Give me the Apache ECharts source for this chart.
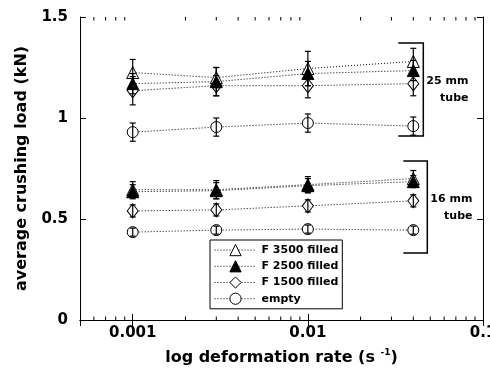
<!DOCTYPE html>
<html>
<head>
<meta charset="utf-8">
<script src="https://cdn.jsdelivr.net/npm/echarts@6/dist/echarts.min.js"></script>
<style>html,body{margin:0;padding:0;background:#fff}#c{width:490px;height:375px}</style>
</head>
<body>
<div id="c"></div>
<script>
// ---- data ----
const rates = [0.001, 0.003, 0.01, 0.04];
const seriesNames = ['F 3500 filled', 'F 2500 filled', 'F 1500 filled', 'empty'];
// 25 mm tube
const f3500_25 = [1.225, 1.20, 1.245, 1.28];
const f2500_25 = [1.17, 1.18, 1.22, 1.235];
const f1500_25 = [1.135, 1.16, 1.16, 1.17];
const empty_25 = [0.93, 0.955, 0.975, 0.96];
const f3500_25_err = [0.065, 0.05, 0.085, 0.065];
const f2500_25_err = [0.05, 0.07, 0.06, 0.05];
const f1500_25_err = [0.07, 0.05, 0.06, 0.06];
const empty_25_err = [0.045, 0.045, 0.045, 0.045];
// 16 mm tube
const f3500_16 = [0.645, 0.645, 0.67, 0.70];
const f2500_16 = [0.635, 0.64, 0.665, 0.685];
const f1500_16 = [0.54, 0.545, 0.565, 0.59];
const empty_16 = [0.435, 0.445, 0.45, 0.445];
const f3500_16_err = [0.04, 0.045, 0.04, 0.04];
const f2500_16_err = [0.035, 0.04, 0.035, 0.03];
const f1500_16_err = [0.03, 0.03, 0.03, 0.03];
const empty_16_err = [0.02, 0.02, 0.02, 0.02];
// brackets (load ranges of each tube group) and their labels
const bracketRanges = [[0.911, 1.371], [0.332, 0.787]];
const bracketLabels = [['25 mm', 'tube'], ['16 mm', 'tube']];
// axis ticks
const xTickLabels = ['0.001', '0.01', '0.1'];
const xMinorTicks = [0.0006, 0.0007, 0.0008, 0.0009, 0.002, 0.003, 0.004, 0.005, 0.006, 0.007, 0.008, 0.009,
  0.02, 0.03, 0.04, 0.05, 0.06, 0.07, 0.08, 0.09];
const yTickLabels = ['0', '0.5', '1', '1.5'];

// ---- chart ----
const FONT = 'DejaVu Sans';
const chart = echarts.init(document.getElementById('c'), null, {renderer: 'canvas'});

const groups = [
  {vals: [f3500_25, f2500_25, f1500_25, empty_25], errs: [f3500_25_err, f2500_25_err, f1500_25_err, empty_25_err]},
  {vals: [f3500_16, f2500_16, f1500_16, empty_16], errs: [f3500_16_err, f2500_16_err, f1500_16_err, empty_16_err]}
];
const symbolDefs = [
  {symbol: 'triangle', size: 12, fill: '#fff'},
  {symbol: 'triangle', size: 12, fill: '#000'},
  {symbol: 'diamond', size: [11, 14], fill: '#fff'},
  {symbol: 'circle', size: 11, fill: '#fff'}
];
const drawOrder = [3, 2, 0, 1];
const series = [];
groups.forEach(g => {
  drawOrder.forEach(k => {
    const sd = symbolDefs[k];
    series.push({
      type: 'line', name: seriesNames[k],
      data: rates.map((r, i) => [r, g.vals[k][i]]),
      symbol: sd.symbol, symbolSize: sd.size,
      showAllSymbol: true,
      lineStyle: {color: '#000', width: 1, type: [1, 2]},
      itemStyle: {color: sd.fill, borderColor: '#000', borderWidth: 1},
      emphasis: {disabled: true},
      z: 2
    });
  });
});
const errData = [];
groups.forEach(g => {
  for (let k = 0; k < 4; k++) {
    rates.forEach((r, i) => errData.push([r, g.vals[k][i] - g.errs[k][i], g.vals[k][i] + g.errs[k][i]]));
  }
});
series.push({
  type: 'custom', silent: true, z: 4,
  data: errData,
  encode: {x: 0, y: [1, 2]},
  renderItem(params, api) {
    const x = api.value(0), lo = api.value(1), hi = api.value(2);
    const a = api.coord([x, hi]), b = api.coord([x, lo]);
    const st = {stroke: '#000', lineWidth: 1.2};
    return {type: 'group', children: [
      {type: 'line', shape: {x1: a[0], y1: a[1], x2: b[0], y2: b[1]}, style: st},
      {type: 'line', shape: {x1: a[0] - 3, y1: a[1], x2: a[0] + 3, y2: a[1]}, style: st},
      {type: 'line', shape: {x1: b[0] - 3, y1: b[1], x2: b[0] + 3, y2: b[1]}, style: st}
    ]};
  }
});
// minor ticks on bottom and top
series.push({
  type: 'custom', silent: true, z: 5,
  data: xMinorTicks.map(v => [v, 0]),
  renderItem(params, api) {
    const x = api.value(0);
    const b = api.coord([x, 0]), t = api.coord([x, 1.5]);
    const st = {stroke: '#000', lineWidth: 1};
    return {type: 'group', children: [
      {type: 'line', shape: {x1: b[0], y1: b[1], x2: b[0], y2: b[1] - 3.5}, style: st},
      {type: 'line', shape: {x1: t[0], y1: t[1], x2: t[0], y2: t[1] + 3.5}, style: st}
    ]};
  }
});
// brackets next to last rate
const bracketOffsets = [[-15, 10], [-10, 14]];
series.push({
  type: 'custom', silent: true, z: 5,
  data: bracketRanges.map((r, i) => [rates[3], r[0], r[1], i]),
  encode: {x: 0, y: [1, 2]},
  renderItem(params, api) {
    const x = api.value(0), lo = api.value(1), hi = api.value(2), idx = api.value(3);
    const a = api.coord([x, hi]), b = api.coord([x, lo]);
    const off = bracketOffsets[idx];
    const xl = a[0] + off[0], xr = a[0] + off[1];
    const st = {stroke: '#000', lineWidth: 1.5, fill: null};
    const mid = (a[1] + b[1]) / 2;
    const tf = 'bold 11px "DejaVu Sans"';
    return {type: 'group', children: [
      {type: 'polyline', shape: {points: [[xl, a[1]], [xr, a[1]], [xr, b[1]], [xl, b[1]]]}, style: st},
      {type: 'text', style: {x: xr + 3, y: mid - 8, text: bracketLabels[idx][0], font: tf, fill: '#000', textAlign: 'left', textVerticalAlign: 'middle'}},
      {type: 'text', style: {x: xr + 31, y: mid + 9, text: bracketLabels[idx][1], font: tf, fill: '#000', textAlign: 'center', textVerticalAlign: 'middle'}}
    ]};
  }
});

const axisLineStyle = {show: true, lineStyle: {color: '#000', width: 1}};
const option = {
  animation: false,
  backgroundColor: '#fff',
  grid: {left: 80, right: 7, top: 17, bottom: 55, outerBoundsMode: 'none', containLabel: false},
  legend: {
    data: seriesNames,
    orient: 'vertical', left: 210, top: 240,
    itemWidth: 42, itemHeight: 14, itemGap: 4,
    padding: [4, 4, 4, 4],
    borderColor: '#000', borderWidth: 1,
    selectedMode: false,
    itemStyle: {borderWidth: 1},
    lineStyle: {width: 1},
    textStyle: {fontFamily: FONT, fontWeight: 'bold', fontSize: 11, color: '#000'}
  },
  xAxis: [{
    type: 'log', logBase: 10, min: 0.0005, max: 0.1,
    position: 'bottom',
    axisLine: axisLineStyle,
    axisTick: {show: true, inside: true, length: 6, lineStyle: {color: '#000'}},
    splitLine: {show: false},
    axisLabel: {
      showMinLabel: false, margin: 6,
      fontFamily: FONT, fontWeight: 'bold', fontSize: 15, color: '#000',
      formatter: v => { const k = Math.round(Math.log10(v)) + 3; return xTickLabels[k] || ''; }
    },
    name: '{a|log deformation rate (s }{s|-1}{a|)}',
    nameLocation: 'middle', nameGap: 28,
    nameTextStyle: {rich: {
      a: {fontFamily: FONT, fontWeight: 'bold', fontSize: 16, color: '#000'},
      s: {fontFamily: FONT, fontWeight: 'bold', fontSize: 9, color: '#000', padding: [0, 0, 11, 0]}
    }}
  }, {
    type: 'log', logBase: 10, min: 0.0005, max: 0.1,
    position: 'top',
    axisLine: axisLineStyle,
    axisTick: {show: true, inside: true, length: 6, lineStyle: {color: '#000'}},
    axisLabel: {show: false}, splitLine: {show: false}
  }],
  yAxis: [{
    type: 'value', min: 0, max: 1.5, interval: 0.5,
    axisLine: axisLineStyle,
    axisTick: {show: true, inside: true, length: 6, lineStyle: {color: '#000'}},
    splitLine: {show: false},
    axisLabel: {
      margin: 12, fontFamily: FONT, fontWeight: 'bold', fontSize: 15, color: '#000',
      formatter: v => yTickLabels[Math.round(v / 0.5)]
    },
    name: 'average crushing load (kN)',
    nameLocation: 'middle', nameGap: 50,
    nameTextStyle: {fontFamily: FONT, fontWeight: 'bold', fontSize: 16, color: '#000'}
  }, {
    type: 'value', min: 0, max: 1.5, interval: 0.5, position: 'right',
    axisLine: axisLineStyle,
    axisTick: {show: true, inside: true, length: 6, lineStyle: {color: '#000'}},
    axisLabel: {show: false}, splitLine: {show: false}
  }],
  series: series
};
chart.setOption(option);
</script>
</body>
</html>
